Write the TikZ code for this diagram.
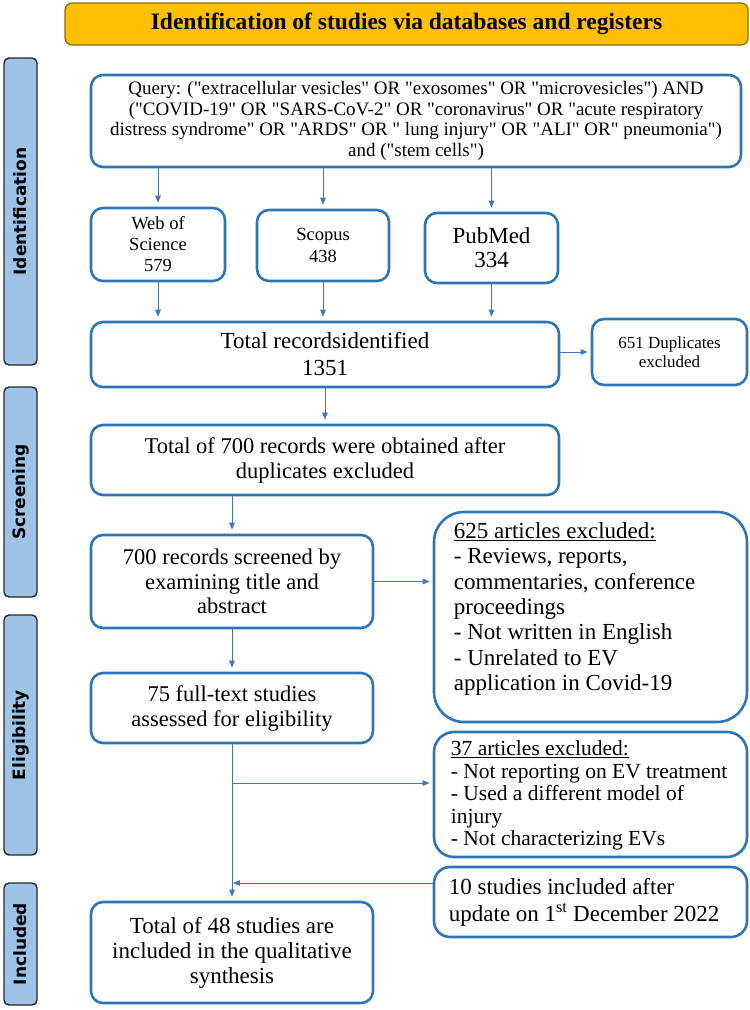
\documentclass[tikz,border=0pt]{standalone}
\usepackage{fontspec}
\setmainfont{Liberation Serif}[Ligatures=TeXOff]
\newfontfamily\labfont{DejaVu Sans}
\usetikzlibrary{arrows.meta}
\definecolor{boxblue}{HTML}{2E75B6}
\definecolor{arrblue}{HTML}{4472C4}
\definecolor{labfill}{HTML}{9DC3E6}
\definecolor{hdrfill}{HTML}{FFC000}
\definecolor{hdrdraw}{HTML}{8C6D00}
\newcommand\fs[2]{\fontsize{#1}{#2}\selectfont}
\tikzset{
 box/.style={draw=boxblue, line width=2.6pt, rounded corners=12pt, fill=white, inner sep=0pt, align=center, font=\fs{22.5}{25}},
 side/.style={draw=black!85, line width=1.4pt, fill=labfill, rounded corners=5pt, rotate=90, inner sep=0pt, font=\labfont\bfseries\fs{17}{20}},
 arr/.style={draw=arrblue, line width=0.9pt, -{Triangle[length=7pt,width=5.5pt]}},
 txt/.style={inner sep=0pt, align=left, font=\fs{23}{25.3}}
}
\begin{document}
\begin{tikzpicture}[x=1pt,y=-1pt]
\useasboundingbox (0,0) rectangle (750,1010);
% header
\node[draw=hdrdraw, line width=1.3pt, fill=hdrfill, rounded corners=7pt, minimum width=683pt, minimum height=42pt, inner sep=0pt, font=\bfseries\fs{23.5}{26}] (hdr) at (406.5,24) {Identification of studies via databases and registers};
% side labels
\node[side, minimum width=307pt, minimum height=33pt] (sid) at (20.5,211.5) {Identification};
\node[side, minimum width=210pt, minimum height=33pt] (sscr) at (20.5,492) {Screening};
\node[side, minimum width=240pt, minimum height=33pt] (selg) at (20.5,735) {Eligibility};
\node[side, minimum width=122pt, minimum height=33pt] (sinc) at (20.5,944) {Included};
% boxes
\node[box, minimum width=650pt, minimum height=92pt, font=\fs{19}{20.5}] (query) at (416,121) {Query: ("extracellular vesicles" OR "exosomes" OR "microvesicles") AND\\("COVID-19" OR "SARS-CoV-2" OR "coronavirus" OR "acute respiratory\\distress syndrome" OR "ARDS" OR " lung injury" OR "ALI" OR" pneumonia")\\and ("stem cells")};
\node[box, minimum width=134pt, minimum height=73pt, font=\fs{18.5}{21}] (wos) at (158,244.5) {Web of\\Science\\579};
\node[box, minimum width=132pt, minimum height=71pt, font=\fs{18.5}{22}] (scopus) at (323,245.5) {Scopus\\438};
\node[box, minimum width=133pt, minimum height=70pt, font=\fs{23}{24}] (pubmed) at (491.5,248) {PubMed\\334};
\node[box, minimum width=468pt, minimum height=65pt, font=\fs{23}{27}] (total) at (325,354.5) {Total recordsidentified\\1351};
\node[box, minimum width=155pt, minimum height=66pt, font=\fs{17}{19}] (dup) at (669.5,352) {651 Duplicates\\excluded};
\node[box, minimum width=468pt, minimum height=70pt] (t700) at (325,460) {Total of 700 records were obtained after\\duplicates excluded};
\node[box, minimum width=282pt, minimum height=93pt, font=\fs{22.5}{24.5}] (scr) at (232,581.5) {700 records screened by\\examining title and\\abstract};
\node[box, minimum width=313pt, minimum height=210pt, rounded corners=30pt] (ex625) at (590.5,617) {};
\node[txt, anchor=west] (ex625t) at ([xshift=21pt,yshift=8pt]ex625.west) {\underline{625 articles excluded:}\\- Reviews, reports,\\commentaries, conference\\proceedings\\- Not written in English\\- Unrelated to EV\\application in Covid-19};
\node[box, minimum width=282pt, minimum height=70pt] (ft75) at (232,708) {75 full-text studies\\assessed for eligibility};
\node[box, minimum width=313pt, minimum height=125pt, rounded corners=20pt] (ex37) at (590.5,794.5) {};
\node[txt, anchor=west, font=\fs{21.5}{22.5}] (ex37t) at ([xshift=18pt,yshift=-1pt]ex37.west) {\underline{37 articles excluded:}\\- Not reporting on EV treatment\\- Used a different model of\\injury\\- Not characterizing EVs};
\node[box, minimum width=313pt, minimum height=70pt, rounded corners=16pt] (upd) at (590.5,902) {};
\node[txt, anchor=west, font=\fs{23}{27}] (updt) at ([xshift=16pt]upd.west) {10 studies included after\\update on 1\textsuperscript{st} December 2022};
\node[box, minimum width=282pt, minimum height=101pt, font=\fs{23}{25}] (final) at (232,952.5) {Total of 48 studies are\\included in the qualitative\\synthesis};
% connectors
\draw[arr, shorten >=4pt] (wos.north |- query.south) -- (wos.north);
\draw[arr, shorten >=4pt] (scopus.north |- query.south) -- (scopus.north);
\draw[arr, shorten >=4pt] (pubmed.north |- query.south) -- (pubmed.north);
\draw[arr, shorten >=4pt] (wos.south) -- (wos.south |- total.north);
\draw[arr, shorten >=4pt] (scopus.south) -- (scopus.south |- total.north);
\draw[arr, shorten >=4pt] (pubmed.south) -- (pubmed.south |- total.north);
\draw[arr, shorten >=3pt] (total.east |- dup.west) -- (dup.west);
\draw[arr, shorten >=4pt] (total.south) -- (t700.north);
\draw[arr, shorten >=4pt] (scr.north |- t700.south) -- (scr.north);
\draw[arr, shorten >=3pt] (scr.east) -- (scr.east -| ex625.west);
\draw[arr, shorten >=4pt] (scr.south) -- (ft75.north);
\draw[arr, shorten >=4pt] (ft75.south) -- (final.north);
\coordinate (br) at (232,783);
\draw[arr, shorten >=3pt] (br) -- (br -| ex37.west);
\coordinate (jn) at (232,883);
\draw[arr, shorten >=1pt] (upd.west |- jn) -- (jn);
\end{tikzpicture}
\end{document}
